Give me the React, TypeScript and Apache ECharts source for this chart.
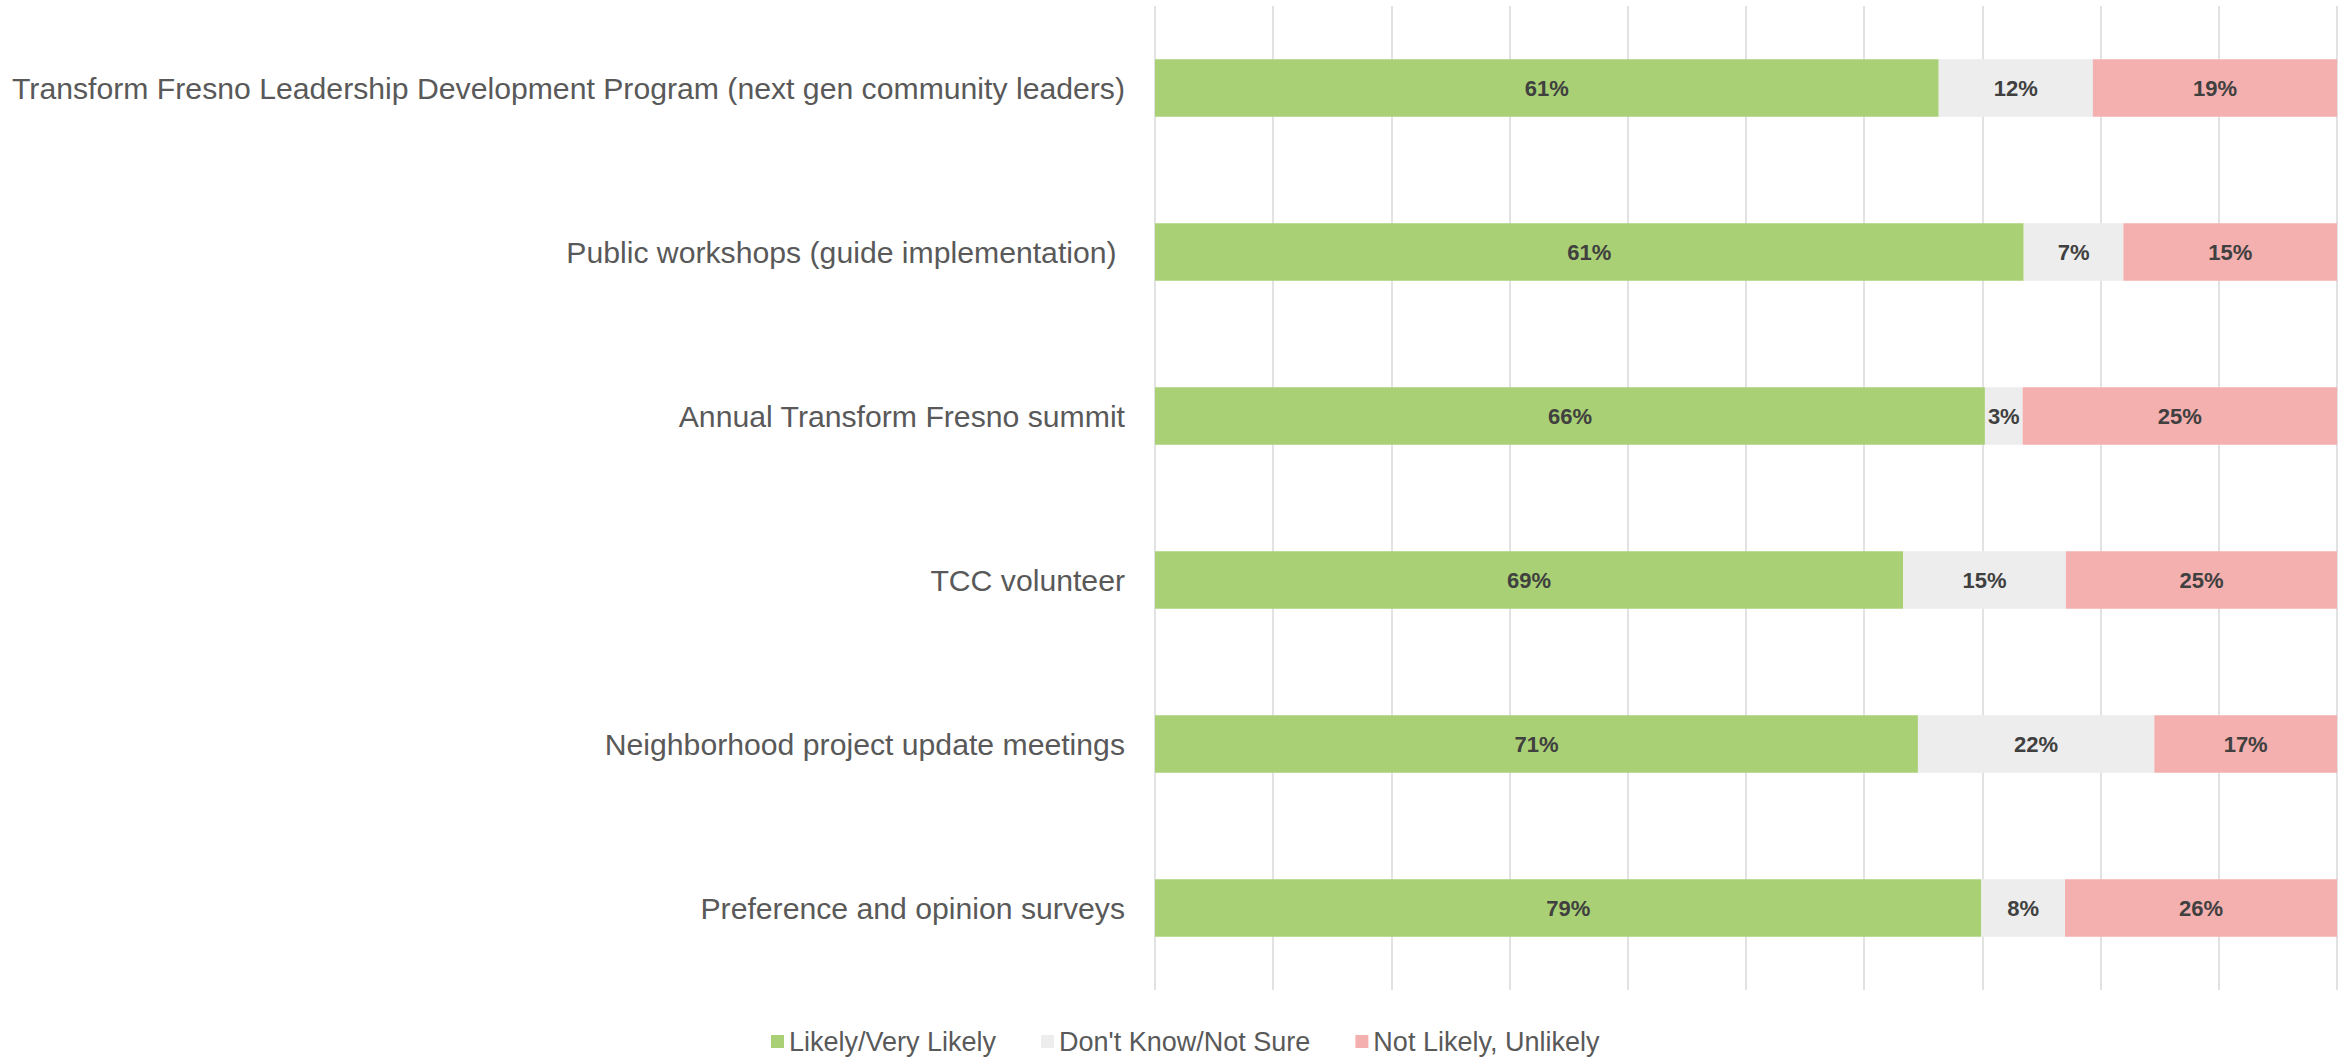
import React, { useEffect, useRef } from "react";
import * as echarts from "echarts";

const categories = [
  "Transform Fresno Leadership Development Program (next gen community leaders)",
  "Public workshops (guide implementation) ",
  "Annual Transform Fresno summit",
  "TCC volunteer",
  "Neighborhood project update meetings",
  "Preference and opinion surveys",
];
const likely = [61, 61, 66, 69, 71, 79];
const notSure = [12, 7, 3, 15, 22, 8];
const unlikely = [19, 15, 25, 25, 17, 26];
const seriesNames = ["Likely/Very Likely", "Don't Know/Not Sure", "Not Likely, Unlikely"];
const colors = ["#a9d074", "#ededed", "#f4afaf"];

export default function App() {
  const ref = useRef<HTMLDivElement>(null);
  useEffect(() => {
    document.body.style.margin = "0";
    const chart = echarts.init(ref.current!, null, { renderer: "svg" });
    const raw = [likely, notSure, unlikely];
    const totals = categories.map((_, i) => likely[i] + notSure[i] + unlikely[i]);
    const font = "'Liberation Sans', Arial, sans-serif";
    chart.setOption({
      animation: false,
      textStyle: { fontFamily: font },
      grid: { left: 1155, right: 9, top: 6, bottom: 70, containLabel: false },
      legend: {
        bottom: 0,
        left: 766,
        itemWidth: 13,
        itemHeight: 13,
        itemGap: 45,
        icon: "rect",
        textStyle: { fontSize: 27, color: "#595959", fontFamily: font },
        data: seriesNames,
      },
      xAxis: {
        type: "value",
        min: 0,
        max: 1,
        interval: 0.1,
        axisLabel: { show: false },
        axisLine: { show: false },
        axisTick: { show: false },
        splitLine: { show: true, lineStyle: { color: "#d9d9d9", width: 1.5 } },
      },
      yAxis: {
        type: "category",
        inverse: true,
        data: categories,
        axisLine: { show: false },
        axisTick: { show: false },
        axisLabel: { fontSize: 30.2, color: "#595959", margin: 30, fontFamily: font },
      },
      series: seriesNames.map((name, s) => ({
        name,
        type: "bar",
        stack: "total",
        barWidth: "35%",
        itemStyle: { color: colors[s] },
        label: {
          show: true,
          position: "inside",
          fontSize: 22,
          fontWeight: "bold",
          color: "#404040",
          fontFamily: font,
          formatter: (p: any) => raw[s][p.dataIndex] + "%",
        },
        data: raw[s].map((v, i) => v / totals[i]),
      })),
    });
    return () => chart.dispose();
  }, []);
  return <div ref={ref} style={{ width: 2346, height: 1060 }} />;
}
